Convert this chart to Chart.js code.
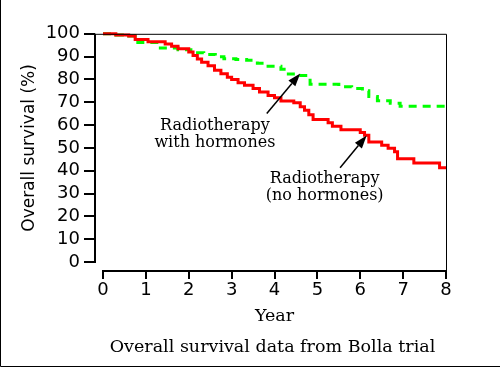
<!DOCTYPE html>
<html lang="en">
<head>
<meta charset="UTF-8">
<title>Overall survival - Bolla trial</title>
<script src="https://cdn.jsdelivr.net/npm/chart.js"></script>
<style>
  html, body { margin: 0; padding: 0; background: #fff; }
  canvas { display: block; }
</style>
</head>
<body>
<canvas id="survivalCanvas" width="500" height="367"></canvas>
<script>
// ticks
const yearTicks = [0, 1, 2, 3, 4, 5, 6, 7, 8];
const survivalTicks = [0, 10, 20, 30, 40, 50, 60, 70, 80, 90, 100];

// radiotherapy alone (red, solid) - step points
const noHormoneYears = [0, 0.3, 0.6, 0.75, 1.05, 1.45, 1.6, 1.75, 2.0, 2.1, 2.2, 2.3, 2.45, 2.6, 2.75, 2.9, 3.0, 3.15, 3.3, 3.5, 3.65, 3.85, 4.0, 4.15, 4.45, 4.6, 4.7, 4.8, 4.9, 5.25, 5.35, 5.55, 6.0, 6.1, 6.2, 6.5, 6.65, 6.8, 6.87, 7.25, 7.85, 8.0];
const noHormoneSurvival = [100, 99.5, 99, 97.5, 96.5, 95.5, 94.5, 93.5, 92, 90.5, 89, 87.5, 86, 84, 82.5, 81, 80, 78.5, 77.5, 76, 74.5, 73, 72, 70.5, 69.8, 68, 66.5, 64.5, 62.5, 61, 59.5, 58, 56.8, 55.5, 52.6, 51.2, 49.8, 48.3, 45.3, 43.4, 41.3, 41.3];

// radiotherapy with hormones (green, dashed)
const hormoneYears = [0, 0.3, 0.6, 0.75, 1.3, 1.75, 2.05, 2.35, 2.62, 2.82, 3.1, 3.35, 3.6, 3.85, 4.15, 4.28, 4.5, 4.83, 5.5, 5.8, 6.05, 6.2, 6.4, 6.7, 6.93, 8.0];
const hormoneSurvival = [100, 99.5, 99, 96.2, 93.8, 93.0, 91.7, 90.9, 89.9, 89.1, 88.7, 88.4, 87.1, 85.8, 84.5, 82.4, 81.7, 77.9, 76.8, 76.0, 75.0, 72.5, 70.7, 69.6, 68.3, 68.3];

// labels and arrows, in data units (year, survival)
const labelLines = [["Radiotherapy", "with hormones"], ["Radiotherapy", "(no hormones)"]];
const labelAt = [[2.61, 57.9], [5.17, 34.5]];
const arrowTail = [[3.82, 65.1], [5.53, 41.3]];
const arrowTip = [[4.6, 82.6], [6.15, 55.4]];
const caption = "Overall survival data from Bolla trial";

function toPoints(xs, ys) {
    return xs.map(function (x, i) { return { x: x, y: ys[i] }; });
}

const framePlugin = {
    id: "framePlugin",
    afterDraw: function (chart) {
        const ctx = chart.ctx;
        const area = chart.chartArea;
        const xs = chart.scales.x;
        const ys = chart.scales.y;
        const axisX = area.left - 8;
        const axisY = area.bottom + 9;

        ctx.save();
        ctx.strokeStyle = "#000";

        // outer frame (left + bottom)
        ctx.lineWidth = 1;
        ctx.beginPath();
        ctx.moveTo(0.5, 0);
        ctx.lineTo(0.5, 366.5);
        ctx.lineTo(500, 366.5);
        ctx.stroke();

        // top and right border of plot box
        ctx.beginPath();
        ctx.moveTo(axisX, area.top + 0.5);
        ctx.lineTo(area.right + 0.5, area.top + 0.5);
        ctx.lineTo(area.right + 0.5, axisY);
        ctx.stroke();

        // y axis + ticks
        ctx.lineWidth = 2;
        ctx.beginPath();
        ctx.moveTo(axisX, area.top);
        ctx.lineTo(axisX, area.bottom + 1);
        survivalTicks.forEach(function (v) {
            const py = Math.round(ys.getPixelForValue(v));
            ctx.moveTo(axisX - 11, py);
            ctx.lineTo(axisX, py);
        });
        ctx.stroke();

        // x axis + ticks
        ctx.beginPath();
        ctx.moveTo(area.left, axisY);
        ctx.lineTo(area.right + 1, axisY);
        yearTicks.forEach(function (v) {
            const px = Math.round(xs.getPixelForValue(v));
            ctx.moveTo(px, axisY - 1);
            ctx.lineTo(px, axisY + 8);
        });
        ctx.stroke();

        // arrows
        ctx.fillStyle = "#000";
        ctx.lineWidth = 1.5;
        for (let i = 0; i < arrowTip.length; i++) {
            const x0 = xs.getPixelForValue(arrowTail[i][0]);
            const y0 = ys.getPixelForValue(arrowTail[i][1]);
            const x1 = xs.getPixelForValue(arrowTip[i][0]);
            const y1 = ys.getPixelForValue(arrowTip[i][1]);
            const a = Math.atan2(y1 - y0, x1 - x0);
            const len = 13, half = 4.5;
            const bx = x1 - len * Math.cos(a), by = y1 - len * Math.sin(a);
            ctx.beginPath();
            ctx.moveTo(x0, y0);
            ctx.lineTo(bx, by);
            ctx.stroke();
            ctx.beginPath();
            ctx.moveTo(x1, y1);
            ctx.lineTo(bx + half * Math.sin(a), by - half * Math.cos(a));
            ctx.lineTo(bx - half * Math.sin(a), by + half * Math.cos(a));
            ctx.closePath();
            ctx.fill();
        }

        // annotation labels
        ctx.font = "16px 'DejaVu Serif'";
        ctx.textAlign = "center";
        ctx.textBaseline = "alphabetic";
        for (let i = 0; i < labelLines.length; i++) {
            const lx = xs.getPixelForValue(labelAt[i][0]);
            const ly = ys.getPixelForValue(labelAt[i][1]);
            labelLines[i].forEach(function (line, j) {
                ctx.fillText(line, lx, ly + j * 17);
            });
        }

        // caption
        ctx.font = "17.5px 'DejaVu Serif'";
        ctx.fillText(caption, (area.left + area.right) / 2 - 2, 351.5);
        ctx.restore();
    }
};

new Chart(document.getElementById("survivalCanvas"), {
    type: "line",
    data: {
        datasets: [
            {
                label: "Radiotherapy (no hormones)",
                data: toPoints(noHormoneYears, noHormoneSurvival),
                borderColor: "#ff0000",
                borderWidth: 3,
                stepped: true,
                pointRadius: 0,
                clip: false
            },
            {
                label: "Radiotherapy with hormones",
                data: toPoints(hormoneYears, hormoneSurvival),
                borderColor: "#00ff00",
                borderWidth: 3,
                borderDash: [8, 6],
                stepped: true,
                pointRadius: 0,
                clip: false
            }
        ]
    },
    options: {
        responsive: false,
        animation: false,
        layout: { padding: { left: 0, right: 54, top: 27, bottom: 0 } },
        plugins: { legend: { display: false }, tooltip: { enabled: false } },
        scales: {
            x: {
                type: "linear",
                min: 0,
                max: 8,
                afterFit: function (scale) { scale.height = 105; },
                afterBuildTicks: function (scale) { scale.ticks = yearTicks.map(function (v) { return { value: v }; }); },
                grid: { display: false, drawTicks: false },
                border: { display: false },
                ticks: { color: "#000", padding: 18, autoSkip: false, maxRotation: 0, font: { family: "DejaVu Sans", size: 18 } },
                title: { display: true, text: "Year", color: "#000", font: { family: "DejaVu Serif", size: 17.5 }, padding: { top: 0, bottom: 40 } }
            },
            y: {
                min: 0,
                max: 100,
                afterFit: function (scale) { scale.width = 103; },
                afterBuildTicks: function (scale) { scale.ticks = survivalTicks.map(function (v) { return { value: v }; }); },
                grid: { display: false, drawTicks: false },
                border: { display: false },
                ticks: { color: "#000", padding: 23, autoSkip: false, font: { family: "DejaVu Sans", size: 18 } },
                title: { display: true, text: "Overall survival (%)", color: "#000", font: { family: "DejaVu Sans", size: 17 }, padding: { top: 19, bottom: 0 } }
            }
        }
    },
    plugins: [framePlugin]
});
</script>
</body>
</html>
